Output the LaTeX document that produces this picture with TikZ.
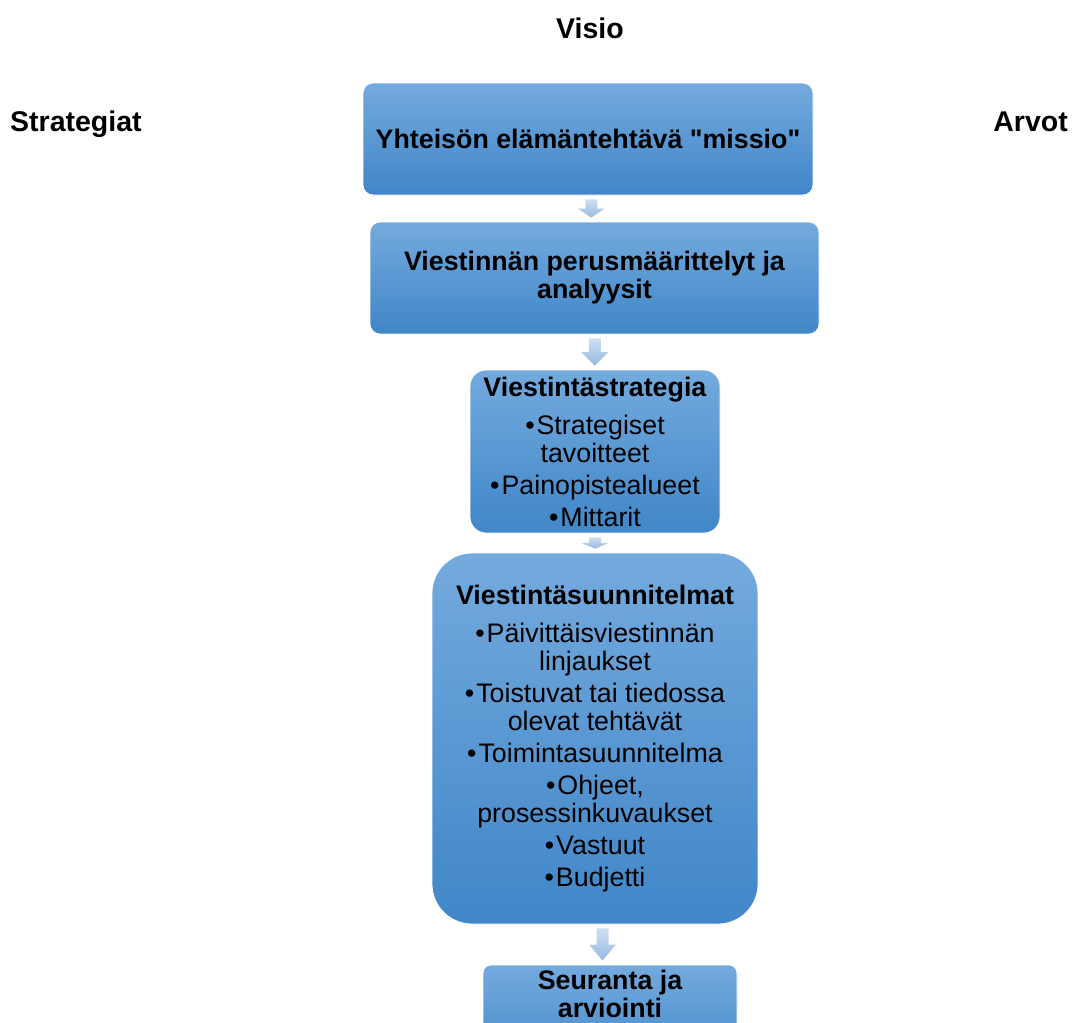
\documentclass[tikz,border=0pt]{standalone}
\usepackage{fontspec}
\setmainfont{Liberation Sans}[Ligatures=TeXOff]
\usetikzlibrary{calc}

\definecolor{boxtop}{RGB}{116,170,222}
\definecolor{boxbot}{RGB}{64,134,200}
\definecolor{arrtop}{RGB}{208,222,240}
\definecolor{arrbot}{RGB}{150,186,226}

\tikzset{
  box/.style={draw=white, line width=0.8pt, top color=boxtop, bottom color=boxbot,
    inner sep=0pt, align=center, font=\fontsize{26.8}{28}\selectfont},
  boldbox/.style={box, font=\bfseries\fontsize{26.8}{28}\selectfont},
  head/.style={font=\bfseries\fontsize{28.5}{30}\selectfont, inner sep=0pt},
  arrowfill/.style={top color=arrtop, bottom color=arrbot},
}

% block arrow pointing down from node #1 to node #2
\newcommand\blockarrow[2]{%
  \path[arrowfill] let \p1=(#1.south), \p2=(#2.north),
      \p3=({(\x1+\x2)/2},{\y1-4pt}), \p4=({(\x1+\x2)/2},{\y2+4pt}) in
    ({\x3-6pt},\y3) -- ({\x3+6pt},\y3) -- ({\x3+6pt},{(\y3+\y4)/2})
    -- ({\x3+13.5pt},{(\y3+\y4)/2}) -- (\x4,\y4)
    -- ({\x3-13.5pt},{(\y3+\y4)/2}) -- ({\x3-6pt},{(\y3+\y4)/2}) -- cycle;}

\newcommand\bul{\textbullet\kern2pt}

\begin{document}
\begin{tikzpicture}[x=1pt,y=-1pt]
  \useasboundingbox (0,0) rectangle (1072,1023);
  \clip (0,0) rectangle (1072,1023);

  % side headings
  \node[head, anchor=base] (visio) at (590,38) {Visio};
  \node[head, anchor=base west] (strat) at (10,131) {Strategiat};
  \node[head, anchor=base east] (arvot) at (1068,131) {Arvot};

  % process boxes
  \node[boldbox, rounded corners=10pt, minimum width=450pt, minimum height=112pt] (b1) at (588,139)
    {Yhteisön elämäntehtävä "missio"};

  \node[boldbox, rounded corners=10pt, minimum width=449pt, minimum height=112pt] (b2) at (594.5,278)
    {Viestinnän perusmäärittelyt ja\\ analyysit};

  \node[box, rounded corners=16pt, minimum width=250pt, minimum height=163pt] (b3) at (595,451.5)
    {\textbf{Viestintästrategia}\\[10pt]
     \bul Strategiset\\ tavoitteet\\[4pt]
     \bul Painopistealueet\\[4pt]
     \bul Mittarit};

  \node[box, rounded corners=40pt, minimum width=326pt, minimum height=371pt] (b4) at (595,738.5)
    {\textbf{Viestintäsuunnitelmat}\\[10pt]
     \bul Päivittäisviestinnän\\ linjaukset\\[4pt]
     \bul Toistuvat tai tiedossa\\ olevat tehtävät\\[4pt]
     \bul Toimintasuunnitelma\\[4pt]
     \bul Ohjeet,\\ prosessinkuvaukset\\[4pt]
     \bul Vastuut\\[4pt]
     \bul Budjetti};

  \node[box, rounded corners=8pt, minimum width=254pt, minimum height=112pt] (b5) at (610,1021) {};
  \node[font=\bfseries\fontsize{26.8}{28}\selectfont, align=center, inner sep=0pt] (t5) at (610,994)
    {Seuranta ja\\ arviointi};

  % connecting arrows
  \blockarrow{b1}{b2}
  \blockarrow{b2}{b3}
  \blockarrow{b3}{b4}
  \blockarrow{b4}{b5}
\end{tikzpicture}
\end{document}
